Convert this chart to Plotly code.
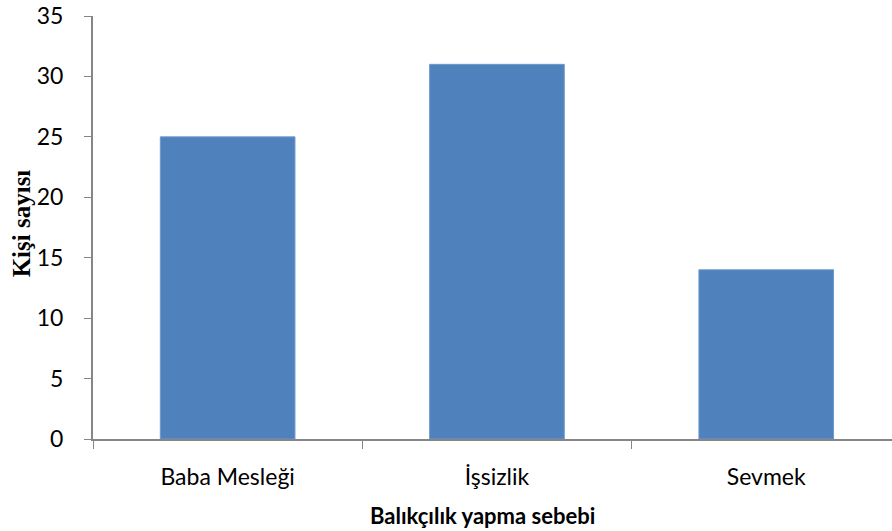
import plotly.graph_objects as go

categories = ['Baba Mesleği', 'İşsizlik', 'Sevmek']
counts = [25, 31, 14]
y_ticks = [0, 5, 10, 15, 20, 25, 30, 35]

fig = go.Figure()
fig.add_trace(go.Bar(
    x=categories, y=counts,
    marker=dict(color='#4F81BD', line=dict(color='#6F99CC', width=1)),
    width=0.5,
))

fig.update_layout(
    width=892, height=531,
    paper_bgcolor='white', plot_bgcolor='white',
    margin=dict(l=93, r=0, t=16, b=92),
    font=dict(family='Lato, Open Sans, sans-serif', size=23, color='black'),
    showlegend=False,
)

# x axis runs off the right edge, as in the original
fig.update_xaxes(
    range=[-0.5, 2.467], automargin=False,
    showline=True, linecolor='#868686', linewidth=2,
    ticks='outside', tickson='boundaries', ticklen=8, tickcolor='#868686', tickwidth=1,
    ticklabelstandoff=16,
    tickfont=dict(size=23),
)
fig.update_yaxes(
    range=[0, 35], tickvals=y_ticks, automargin=False,
    showgrid=False, zeroline=False,
    showline=True, linecolor='#868686', linewidth=2,
    ticks='outside', ticklen=7, tickcolor='#868686', tickwidth=1,
    ticklabelstandoff=16, ticklabeloverflow='allow',
    tickfont=dict(size=23),
)

fig.add_annotation(
    text='<b>Balıkçılık yapma sebebi</b>', xref='paper', yref='paper',
    x=0.488, y=-0.18, xanchor='center', yanchor='middle', showarrow=False,
    font=dict(size=22),
)
fig.add_annotation(
    text='<b>Kişi sayısı</b>', xref='paper', yref='paper',
    x=-0.090, y=0.51, xanchor='center', yanchor='middle', showarrow=False,
    textangle=-90,
    font=dict(family='Liberation Serif, Times New Roman, serif', size=25),
)

# drop the default 8px body margin so the chart sits flush with the window
fig.write_html('out.html', config={'displayModeBar': False},
               post_script="document.body.style.margin='0';")
